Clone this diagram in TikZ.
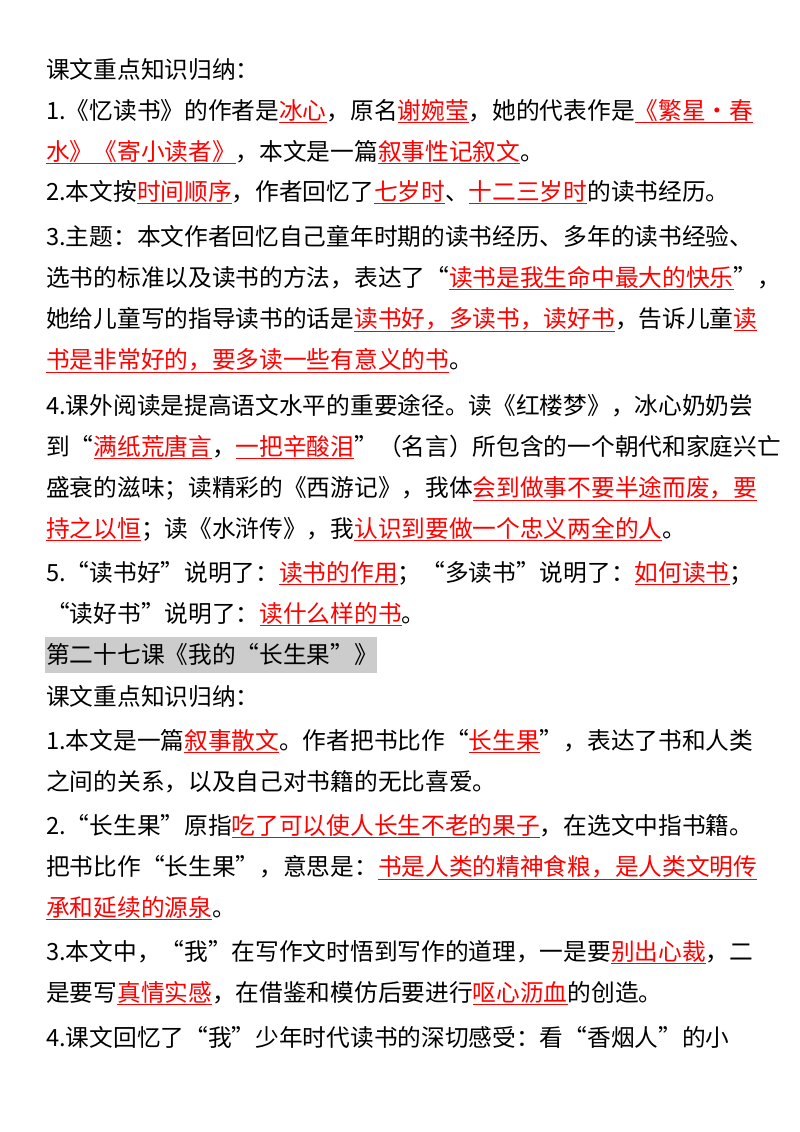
\documentclass[tikz,border=0pt]{standalone}
\usepackage{fontspec}
\setmainfont{Noto Sans CJK SC}
\XeTeXlinebreaklocale "zh"
\XeTeXlinebreakskip=0pt plus 3pt
\newcommand\rd[1]{{\color{red}\underline{#1}}}
\newcommand\jl[2]{\node[txt] (l#1) at (46,-#1) {#2};}
\newcommand\nl[2]{\node[txt] (l#1) at (46,-#1) {#2};}
\tikzset{txt/.style={anchor=base west,inner sep=0pt,font=\fontsize{23.7}{28}\selectfont}}
\begin{document}
\begin{tikzpicture}[x=1pt,y=1pt]
\useasboundingbox[fill=white] (0,0) rectangle (800,-1132);
\fill[gray!40] (45,-637) rectangle (377,-673);
\nl{78}{课文重点知识归纳：}
\jl{119}{1.《忆读书》的作者是\rd{冰心}，原名\rd{谢婉莹}，她的代表作是\rd{《繁星·春}}
\nl{160}{\rd{水》《寄小读者》}，本文是一篇\rd{叙事性记叙文}。}
\nl{200}{2.本文按\rd{时间顺序}，作者回忆了\rd{七岁时}、\rd{十二三岁时}的读书经历。}
\jl{245}{3.主题：本文作者回忆自己童年时期的读书经历、多年的读书经验、}
\jl{286}{选书的标准以及读书的方法，表达了“\rd{读书是我生命中最大的快乐}”，}
\jl{327}{她给儿童写的指导读书的话是\rd{读书好，多读书，读好书}，告诉儿童\rd{读}}
\nl{368}{\rd{书是非常好的，要多读一些有意义的书}。}
\jl{414}{4.课外阅读是提高语文水平的重要途径。读《红楼梦》，冰心奶奶尝}
\jl{455}{到“\rd{满纸荒唐言}，\rd{一把辛酸泪}”（名言）所包含的一个朝代和家庭兴亡}
\jl{496}{盛衰的滋味；读精彩的《西游记》，我体\rd{会到做事不要半途而废，要}}
\nl{537}{\rd{持之以恒}；读《水浒传》，我\rd{认识到要做一个忠义两全的人}。}
\jl{581}{5.“读书好”说明了：\rd{读书的作用}；“多读书”说明了：\rd{如何读书}；}
\nl{622}{“读好书”说明了：\rd{读什么样的书}。}
\nl{663}{第二十七课《我的“长生果”》}
\nl{705}{课文重点知识归纳：}
\jl{749}{1.本文是一篇\rd{叙事散文}。作者把书比作“\rd{长生果}”，表达了书和人类}
\nl{790}{之间的关系，以及自己对书籍的无比喜爱。}
\jl{834}{2.“长生果”原指\rd{吃了可以使人长生不老的果子}，在选文中指书籍。}
\jl{875}{把书比作“长生果”，意思是：\rd{书是人类的精神食粮，是人类文明传}}
\nl{916}{\rd{承和延续的源泉}。}
\jl{960}{3.本文中，“我”在写作文时悟到写作的道理，一是要\rd{别出心裁}，二}
\nl{1001}{是要写\rd{真情实感}，在借鉴和模仿后要进行\rd{呕心沥血}的创造。}
\jl{1046}{4.课文回忆了“我”少年时代读书的深切感受：看“香烟人”的小}
\end{tikzpicture}
\end{document}
